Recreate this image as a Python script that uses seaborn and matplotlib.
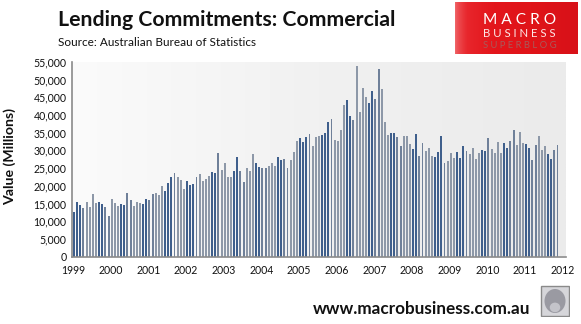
import numpy as np
import pandas as pd
import seaborn as sns
import matplotlib.pyplot as plt
from matplotlib.colors import LinearSegmentedColormap
from matplotlib.patches import Rectangle, Ellipse

# ---- data (monthly commercial lending commitments, $ billions -> millions) ----
v1999 = [12.5, 15.3, 14.6, 13.6, 15.3, 13.9, 17.7, 15.0, 15.4, 14.8, 13.9, 11.4]
v2000 = [16.3, 15.0, 14.2, 14.8, 14.5, 18.0, 16.0, 14.4, 15.3, 15.1, 14.8, 16.3]
v2001 = [16.1, 17.7, 17.9, 17.3, 19.9, 18.5, 20.8, 22.5, 23.6, 22.5, 21.6, 19.1]
v2002 = [21.4, 20.2, 20.5, 22.5, 23.3, 21.4, 21.9, 22.8, 23.9, 23.6, 29.3, 24.5]
v2003 = [26.4, 22.5, 22.5, 24.2, 28.1, 24.2, 21.0, 25.0, 24.2, 29.0, 26.4, 25.3]
v2004 = [25.0, 25.0, 25.6, 26.4, 25.6, 28.1, 27.3, 27.6, 25.0, 27.3, 29.6, 32.7]
v2005 = [33.5, 32.4, 33.8, 34.6, 31.2, 33.8, 34.1, 34.4, 34.9, 38.0, 38.9, 32.9]
v2006 = [32.7, 35.8, 42.8, 44.3, 39.7, 38.6, 53.9, 40.9, 47.7, 45.1, 43.4, 46.8]
v2007 = [44.5, 53.0, 47.4, 38.0, 34.4, 34.9, 34.9, 33.8, 31.2, 34.1, 34.1, 31.8]
v2008 = [30.4, 34.6, 28.4, 32.1, 29.8, 30.7, 28.4, 28.1, 29.6, 34.1, 26.4, 27.0]
v2009 = [29.3, 27.9, 29.6, 27.9, 31.2, 29.8, 29.0, 30.7, 27.6, 29.4, 30.1, 29.8]
v2010 = [33.5, 30.4, 29.3, 32.4, 29.3, 32.1, 30.7, 32.7, 35.8, 31.5, 35.2, 32.1]
v2011 = [31.8, 30.7, 27.3, 31.5, 34.1, 30.1, 31.2, 29.0, 27.6, 30.1, 31.5]

year_labels = [str(y) for y in range(1999, 2013)]
y_ticks = list(range(0, 55001, 5000))

values_k = (v1999 + v2000 + v2001 + v2002 + v2003 + v2004 + v2005 + v2006
            + v2007 + v2008 + v2009 + v2010 + v2011)
months = pd.date_range('1999-01-01', periods=len(values_k), freq='MS')
df = pd.DataFrame({'month': months.strftime('%Y-%m'),
                   'value': np.array(values_k) * 1000.0})

# ---- style ----
sns.set_theme(style='white')
plt.rcParams['font.family'] = ['Lato', 'DejaVu Sans']

W, H = 581, 324
fig = plt.figure(figsize=(W / 100, H / 100), dpi=100)
fig.patch.set_facecolor('white')
renderer = fig.canvas.get_renderer()


def fx(px):
    return px / W


def fy(py):
    return 1 - py / H


def fit(t, target_w):
    bb = t.get_window_extent(renderer)
    t.set_fontsize(t.get_fontsize() * target_w / bb.width)


# plot area
ax_l, ax_r, ax_t, ax_b = 72, 566, 62, 256.5
ax = fig.add_axes([fx(ax_l), fy(ax_b), (ax_r - ax_l) / W, (ax_b - ax_t) / H])

n = len(df)
pitch = (ax_r - ax_l) / 157.35
x0 = -0.65
x1 = x0 + (ax_r - ax_l) / pitch

# gradient background
bg_cmap = LinearSegmentedColormap.from_list('bg', ['#fbfbfb', '#f1f1f1', '#ebebeb'])
ax.imshow(np.linspace(0, 1, 256)[None, :], extent=[x0, x1, 0, 55000],
          aspect='auto', cmap=bg_cmap, zorder=0)

# bar colours emulate the downsampled Excel gradient (blue / grey mix)
dark, mid, light = '#3f5f8c', '#6f8099', '#8d98a8'
colors = []
for i in range(n):
    ph = (i * pitch) % 1.0
    colors.append(dark if ph < 0.33 else (mid if ph < 0.55 else light))

sns.barplot(data=df, x='month', y='value', hue='month', palette=colors,
            legend=False, width=0.62, saturation=1, ax=ax, zorder=2,
            linewidth=0)

ax.set_xlim(x0, x1)
ax.set_ylim(0, 55000)
ax.set_yticks(y_ticks)
ax.set_yticklabels([f'{v:,}' for v in y_ticks])
ax.set_xticks([12 * k - 0.3 for k in range(len(year_labels))])
ax.set_xticklabels(year_labels)
ax.tick_params(axis='both', length=0, labelsize=7.6, colors='#111111')
ax.tick_params(axis='y', pad=4)
ax.tick_params(axis='x', pad=6)
ax.set_xlabel('')
ax.set_ylabel('')
for s in ['top', 'right']:
    ax.spines[s].set_visible(False)
for s in ['left', 'bottom']:
    ax.spines[s].set_color('#8a8a8a')
    ax.spines[s].set_linewidth(1.2)
    ax.spines[s].set_zorder(3)

# texts
yl = fig.text(fx(10), fy(157), 'Value (Millions)', rotation=90, ha='center',
              va='center', fontsize=8, fontweight='bold', color='#111111')

title = fig.text(fx(58), fy(20), 'Lending Commitments: Commercial', ha='left',
                 va='center', fontsize=15, fontweight='bold', color='#111111')
src = fig.text(fx(58), fy(43), 'Source: Australian Bureau of Statistics',
               ha='left', va='center', fontsize=8, color='#111111')
url = fig.text(fx(313), fy(309), 'www.macrobusiness.com.au', ha='left',
               va='center', fontsize=11, fontweight='bold', color='#111111')
fit(title, 338)
fit(src, 198)
fit(url, 217)
bb = yl.get_window_extent(renderer)
yl.set_fontsize(yl.get_fontsize() * 98 / bb.height)

# logo
lax = fig.add_axes([fx(455), fy(54), (578 - 455) / W, (54 - 2) / H])
red = LinearSegmentedColormap.from_list('red', ['#f06a6d', '#e8262c', '#e3161c',
                                                '#e01419', '#d81118'])
grad = np.linspace(0, 1, 256) ** 0.6
lax.imshow(grad[None, :], extent=[0, 1, 0, 1], aspect='auto', cmap=red)
lax.set_xlim(0, 1)
lax.set_ylim(0, 1)
lax.axis('off')
m = lax.text(0.525, 0.66, 'M A C R O', ha='center', va='center', color='white',
             fontsize=12, fontweight='normal')
b = lax.text(0.525, 0.385, 'B U S I N E S S', ha='center', va='center',
             color='#fde8e8', fontsize=8)
s = lax.text(0.525, 0.17, 'S U P E R B L O G', ha='center', va='center',
             color='#a85a5a', fontsize=4)
fit(m, 73)
fit(b, 73)
fit(s, 73)

# wolf icon placeholder
wax = fig.add_axes([fx(540), fy(317), 30 / W, 32 / H])
wax.set_xlim(0, 1)
wax.set_ylim(0, 1)
wax.axis('off')
wax.add_patch(Rectangle((0.02, 0.02), 0.96, 0.96, facecolor='#d6d6da',
                        edgecolor='#8a8a8a', linewidth=1))
wax.add_patch(Ellipse((0.5, 0.5), 0.7, 0.75, facecolor='#9a9aa2', edgecolor='none'))
wax.add_patch(Ellipse((0.5, 0.3), 0.35, 0.3, facecolor='#c4c4ca', edgecolor='none'))

fig.savefig('out.png', dpi=100, facecolor='white')
